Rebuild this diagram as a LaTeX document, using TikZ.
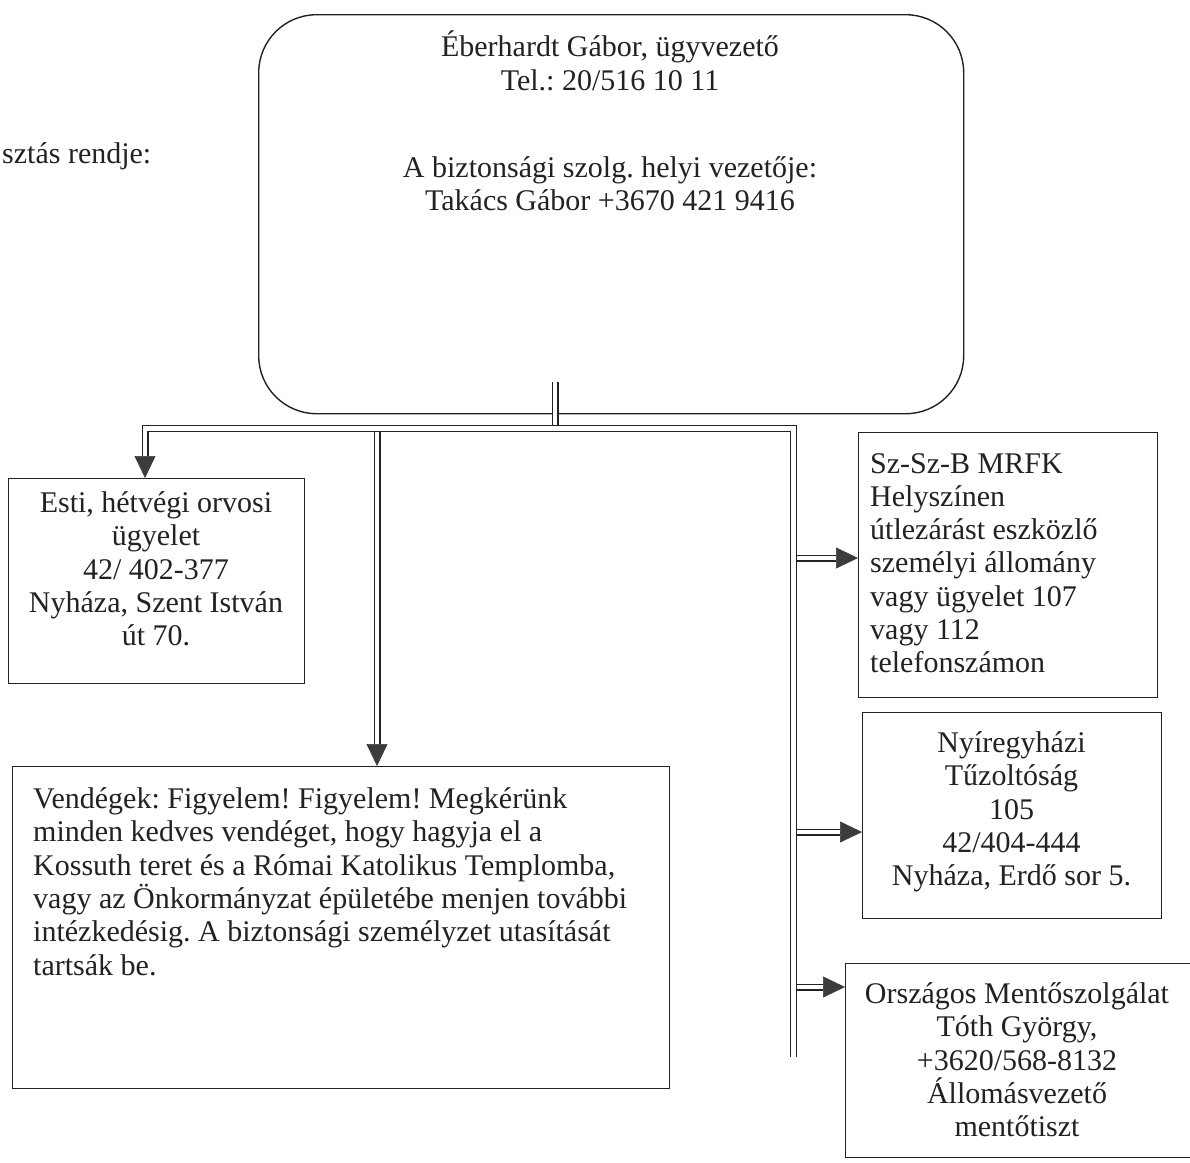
\documentclass[tikz,border=0pt]{standalone}
\usepackage{fontspec}
\setmainfont{Liberation Serif}
\usetikzlibrary{arrows.meta}
\definecolor{ink}{HTML}{222222}
\definecolor{tipc}{HTML}{3C3C3C}
\frenchspacing
\begin{document}
\begin{tikzpicture}[x=1pt,y=-1pt,
  every node/.style={font=\fontsize{30}{33.3}\selectfont\frenchspacing, text=ink, inner sep=0pt},
  frame/.style={draw=ink, line width=1.4pt, anchor=north west, inner sep=0pt},
  dbl/.style={draw=ink, line width=1.3pt, double=white, double distance=4.4pt},
  tipar/.style={-{Triangle[length=22pt,width=21pt]}, draw=tipc, fill=tipc, line width=0.6pt},
  lbl/.style={align=center, anchor=north},
  lbll/.style={align=left, anchor=north west}]
\useasboundingbox (0,0) rectangle (1190,1162);
\fill[white] (0,0) rectangle (1190,1162);

% boxes
\node[frame, rounded corners=58pt, minimum width=705pt, minimum height=399pt] (top) at (258,14) {};
\node[frame, minimum width=296pt, minimum height=205pt] (esti) at (8,478) {};
\node[frame, minimum width=299pt, minimum height=265pt] (szsz) at (858,432) {};
\node[frame, minimum width=299pt, minimum height=206pt] (nyir) at (862,712) {};
\node[frame, minimum width=350pt, minimum height=194pt] (orsz) at (845,963) {};
\node[frame, minimum width=657pt, minimum height=322pt] (vend) at (12,766) {};

% texts
\node[anchor=base west] (rend) at (2,163) {sztás rendje:};
\node[lbl] (t1) at (610,31) {Éberhardt Gábor, ügyvezető\\Tel.: 20/516 10 11};
\node[lbl] (t2) at (610,156.5) {A biztonsági szolg. helyi vezetője:\\Takács Gábor +3670 421 9416};
\node[lbl] (estit) at (156,491.5) {Esti, hétvégi orvosi\\ügyelet\\42/ 402-377\\Nyháza, Szent István\\út 70.};
\node[lbll] (szszt) at (870,453) {Sz-Sz-B MRFK\\Helyszínen\\útlezárást eszközlő\\személyi állomány\\vagy ügyelet 107\\vagy 112\\telefonszámon};
\node[lbl] (nyirt) at (1011.5,731.5) {Nyíregyházi\\Tűzoltóság\\105\\42/404-444\\Nyháza, Erdő sor 5.};
\node[lbl] (orszt) at (1017,982.5) {Országos Mentőszolgálat\\Tóth György,\\+3620/568-8132\\Állomásvezető\\mentőtiszt};
\node[lbll] (vendt) at (33,787.5) {Vendégek: Figyelem! Figyelem! Megkérünk\\minden kedves vendéget, hogy hagyja el a\\Kossuth teret és a Római Katolikus Templomba,\\vagy az Önkormányzat épületébe menjen további\\intézkedésig. A biztonsági személyzet utasítását\\tartsák be.};

% connector points
\coordinate (tstart) at (555,382);
\coordinate (j) at (555,428.5);
\coordinate (ea) at ([xshift=137pt]esti.north west);
\coordinate (va) at ([xshift=365pt]vend.north west);
\coordinate (bl) at (ea |- j);
\coordinate (br) at (793.5,428.5);
\coordinate (bend) at (793.5,1057);
\coordinate (a1) at ([yshift=-126pt]szsz.north west);
\coordinate (a2) at ([yshift=-120pt]nyir.north west);
\coordinate (a3) at ([yshift=-24pt]orsz.north west);

% branches (under the bus)
\draw[dbl] (tstart) -- ([yshift=3.5pt]j);
\draw[dbl] (bl -| va) -- ([yshift=22pt]va);
\draw[dbl] (br |- a1) -- ([xshift=-22pt]a1);
\draw[dbl] (br |- a2) -- ([xshift=-22pt]a2);
\draw[dbl] (br |- a3) -- ([xshift=-22pt]a3);
% bus
\draw[dbl] ([yshift=22pt]ea) -- (bl) -- (br) -- (bend);

% arrow tips
\draw[tipar] ([yshift=22pt]ea) -- (ea);
\draw[tipar] ([yshift=22pt]va) -- (va);
\draw[tipar] ([xshift=-22pt]a1) -- (a1);
\draw[tipar] ([xshift=-22pt]a2) -- (a2);
\draw[tipar] ([xshift=-22pt]a3) -- (a3);
\end{tikzpicture}
\end{document}
